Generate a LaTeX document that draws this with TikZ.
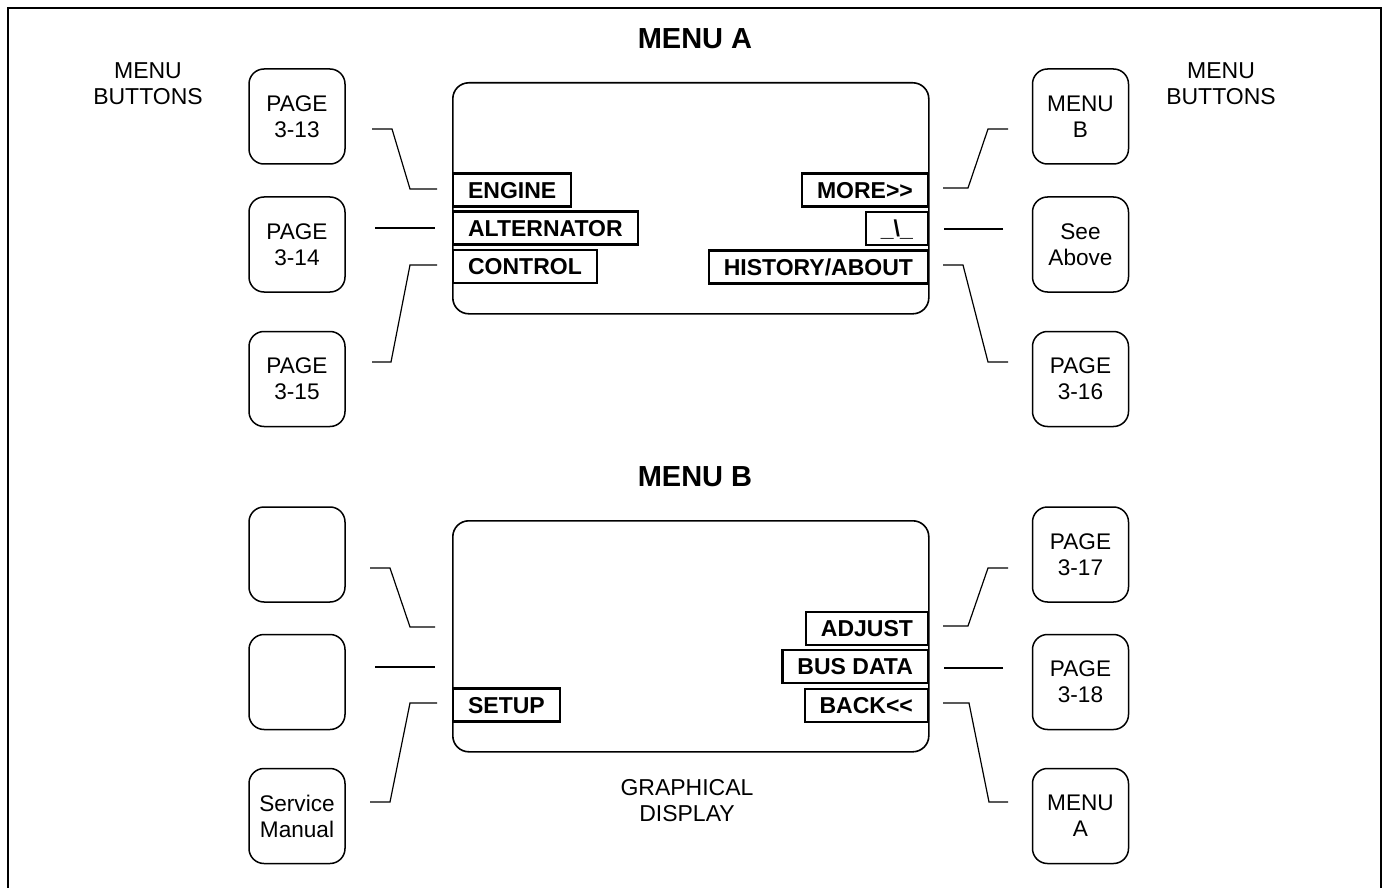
\documentclass[tikz,border=0pt]{standalone}
\usepackage{fontspec}
\setmainfont{Liberation Sans}
\begin{document}
\begin{tikzpicture}[x=0.5pt,y=-0.5pt,
  btn/.style={draw, line width=0.75pt, rounded corners=7.5pt, minimum width=48pt, minimum height=47.5pt, align=center, inner sep=0pt, font=\fontsize{11.3}{13}\selectfont},
  lab/.style={draw, line width=1.1pt, minimum height=16.5pt, inner xsep=7.5pt, inner ysep=0pt, text height=8.3pt, text depth=0pt, font=\bfseries\fontsize{11.5}{13}\selectfont},
  screen/.style={draw, line width=0.8pt, rounded corners=8pt, minimum width=238pt, minimum height=115.5pt, inner sep=0pt, anchor=north west},
  conn/.style={line width=0.6pt},
  title/.style={font=\bfseries\fontsize{14.5}{17}\selectfont},
  plain/.style={align=center, inner sep=0pt, font=\fontsize{11.5}{13}\selectfont}]
\useasboundingbox (0,0) rectangle (1383,888);
% outer frame (open at the bottom)
\draw[line width=1.3pt] (8,900) -- (8,8) -- (1381,8) -- (1381,900);

% titles and captions
\node[title] (titleA) at (695,39) {MENU A};
\node[title] (titleB) at (695,477) {MENU B};
\node[plain] (mbL) at (148,84) {MENU\\BUTTONS};
\node[plain] (mbR) at (1221,84) {MENU\\BUTTONS};
\node[plain] (gd) at (687,801) {GRAPHICAL\\DISPLAY};

% screens
\node[screen] (scrA) at (452,82) {};
\node[screen] (scrB) at (452,520) {};

% buttons, menu A
\node[btn] (bA1) at (297,116.5) {PAGE\\3-13};
\node[btn] (bA2) at (297,244.5) {PAGE\\3-14};
\node[btn] (bA3) at (297,379) {PAGE\\3-15};
\node[btn] (bA4) at (1080.5,116.5) {MENU\\B};
\node[btn] (bA5) at (1080.5,244.5) {See\\Above};
\node[btn] (bA6) at (1080.5,379) {PAGE\\3-16};
% buttons, menu B
\node[btn] (bB1) at (297,554.5) {};
\node[btn] (bB2) at (297,682) {};
\node[btn] (bB3) at (297,816) {Service\\Manual};
\node[btn] (bB4) at (1080.5,554.5) {PAGE\\3-17};
\node[btn] (bB5) at (1080.5,682) {PAGE\\3-18};
\node[btn] (bB6) at (1080.5,816) {MENU\\A};

% labels, menu A
\node[lab, anchor=west] (engine) at (452,190) {ENGINE};
\node[lab, anchor=west] (alt) at (452,228) {ALTERNATOR};
\node[lab, anchor=west] (control) at (452,266.5) {CONTROL};
\node[lab, anchor=east] (more) at (929,190) {MORE\hbox{>}\hbox{>}};
\node[lab, anchor=east] (sym) at (929,228.5) {\_\textbackslash\_};
\node[lab, anchor=east] (hist) at (929,267) {HISTORY/ABOUT};
% labels, menu B
\node[lab, anchor=west] (setup) at (452,705) {SETUP};
\node[lab, anchor=east] (adjust) at (929,628.5) {ADJUST};
\node[lab, anchor=east] (bus) at (929,666.5) {BUS DATA};
\node[lab, anchor=east] (back) at (929,705.5) {BACK\hbox{<}\hbox{<}};

% connector end points
\coordinate (a1s) at (372,129);  \coordinate (a1e) at (437,189);
\coordinate (a2s) at (375,228);  \coordinate (a2e) at (435,228);
\coordinate (a3s) at (372,362);  \coordinate (a3e) at (437,265);
\coordinate (a4s) at (1008,129); \coordinate (a4e) at (943,188);
\coordinate (a5s) at (1003,229); \coordinate (a5e) at (944,229);
\coordinate (a6s) at (1008,362); \coordinate (a6e) at (943,265);
\coordinate (b1s) at (370,568);  \coordinate (b1e) at (435,627);
\coordinate (b2s) at (375,667);  \coordinate (b2e) at (435,667);
\coordinate (b3s) at (370,802);  \coordinate (b3e) at (437,703);
\coordinate (b4s) at (1008,568); \coordinate (b4e) at (943,626);
\coordinate (b5s) at (1003,668); \coordinate (b5e) at (944,668);
\coordinate (b6s) at (1008,802); \coordinate (b6e) at (943,703);

% connectors, menu A
\draw[conn] (a1s) -- (392,129) -- (410,189) -- (a1e);
\draw[conn] (a2s) -- (a2e);
\draw[conn] (a3s) -- (391,362) -- (410,265) -- (a3e);
\draw[conn] (a4s) -- (988,129) -- (968,188) -- (a4e);
\draw[conn] (a5s) -- (a5e);
\draw[conn] (a6s) -- (988,362) -- (963,265) -- (a6e);
% connectors, menu B
\draw[conn] (b1s) -- (390,568) -- (410,627) -- (b1e);
\draw[conn] (b2s) -- (b2e);
\draw[conn] (b3s) -- (390,802) -- (410,703) -- (b3e);
\draw[conn] (b4s) -- (988,568) -- (968,626) -- (b4e);
\draw[conn] (b5s) -- (b5e);
\draw[conn] (b6s) -- (989,802) -- (969,703) -- (b6e);
\end{tikzpicture}
\end{document}
